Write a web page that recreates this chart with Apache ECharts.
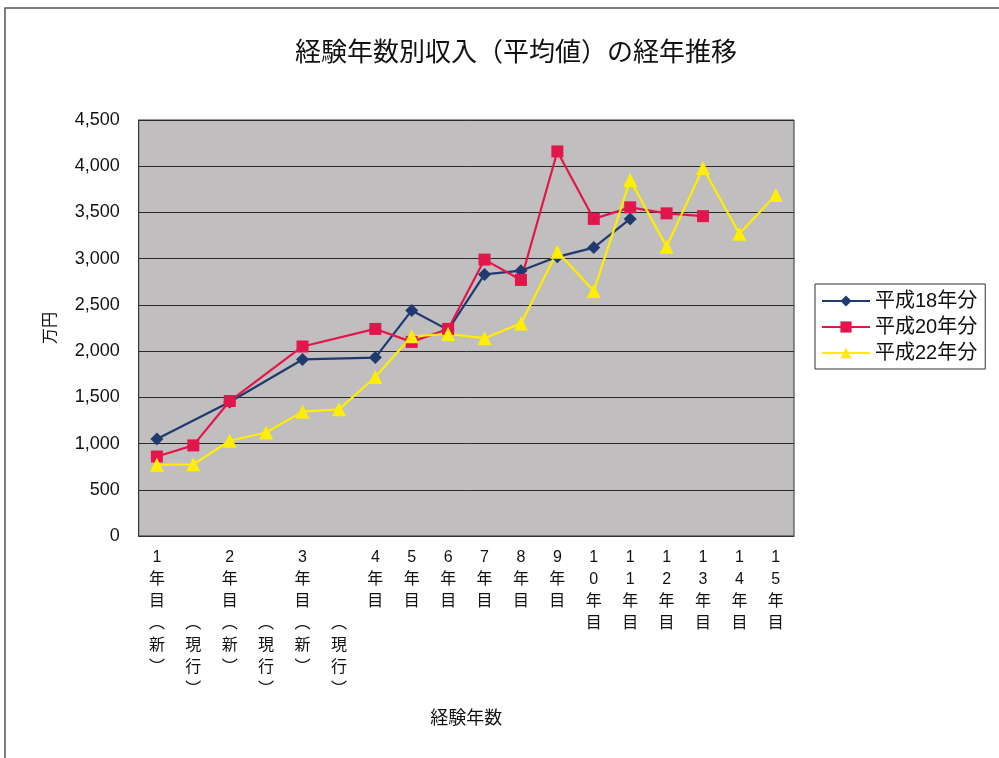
<!DOCTYPE html>
<html><head><meta charset="utf-8">
<script src="https://cdn.jsdelivr.net/npm/echarts@6/dist/echarts.min.js"></script>
<style>html,body{margin:0;padding:0;background:#fff}#c{width:999px;height:758px}</style>
</head><body><div id="c"></div>
<script>
const categories = ['1年目（新）','（現行）','2年目（新）','（現行）','3年目（新）','（現行）','4年目','5年目','6年目','7年目','8年目','9年目','10年目','11年目','12年目','13年目','14年目','15年目'];
const yTicks = [0, 500, 1000, 1500, 2000, 2500, 3000, 3500, 4000, 4500];
const seriesNames = ['平成18年分','平成20年分','平成22年分'];
const h18 = [1050, null, 1450, null, 1910, null, 1930, 2440, 2230, 2830, 2870, 3020, 3120, 3430, null, null, null, null];
const h20 = [860, 980, 1460, null, 2050, null, 2240, 2100, 2240, 2990, 2770, 4160, 3430, 3555, 3490, 3460, null, null];
const h22 = [770, 775, 1030, 1120, 1345, 1370, 1720, 2160, 2185, 2140, 2300, 3075, 2650, 3850, 3130, 3980, 3270, 3690];

const FONT = '"Liberation Sans", "Noto Sans CJK JP", sans-serif';
function vert(s){
  const i = s.indexOf('（');
  let top = i >= 0 ? s.slice(0, i) : s;
  let par = i >= 0 ? s.slice(i) : '';
  let lines = Array.from(top);
  if (par) {
    while (lines.length < 3) lines.push('\u3000');
    Array.from(par).forEach(ch => lines.push(ch === '（' ? '︵' : ch === '）' ? '︶' : ch));
  }
  return lines.join('\n');
}
const chart = echarts.init(document.getElementById('c'));
chart.setOption({
  backgroundColor: '#fff',
  animation: false,
  textStyle: { fontFamily: FONT, color: '#111' },
  title: {
    text: '経験年数別収入（平均値）の経年推移',
    left: 290, top: 33,
    textStyle: { fontSize: 26, fontWeight: 'normal', color: '#111', fontFamily: '"Noto Sans CJK JP", sans-serif' }
  },
  graphic: [{ type: 'rect', shape: { x: 5, y: 8, width: 1100, height: 900 }, style: { fill: 'none', stroke: '#555', lineWidth: 1.5 }, silent: true }],
  legend: {
    orient: 'vertical', left: 815, top: 284,
    data: seriesNames,
    borderColor: '#333', borderWidth: 1, padding: [7, 8, 6, 6],
    itemWidth: 48, itemHeight: 14, itemGap: 6,
    textStyle: { fontSize: 20, color: '#111', fontFamily: FONT }
  },
  grid: { left: 138.7, right: 205, top: 120, bottom: 222, show: true, backgroundColor: '#c0bebe', borderColor: '#333', borderWidth: 1 },
  xAxis: {
    type: 'category', data: categories, boundaryGap: true,
    name: '経験年数', nameLocation: 'middle', nameGap: 174,
    nameTextStyle: { fontSize: 18, color: '#111', fontFamily: FONT },
    axisLine: { lineStyle: { color: '#333' } },
    axisTick: { inside: true, length: 5, lineStyle: { color: '#333' } },
    axisLabel: { interval: 0, margin: 11, fontSize: 16, lineHeight: 22, color: '#111', verticalAlign: 'top', formatter: v => vert(v) },
    splitLine: { show: false }
  },
  yAxis: {
    type: 'value', min: 0, max: 4500, interval: 500,
    name: '万円', nameLocation: 'middle', nameGap: 80, nameRotate: 90,
    nameTextStyle: { fontSize: 16, color: '#111', fontFamily: FONT },
    axisLine: { show: true, lineStyle: { color: '#333' } },
    axisTick: { show: false },
    axisLabel: { fontSize: 18, margin: 19, color: '#111', formatter: v => yTicks.includes(v) ? v.toLocaleString('en-US') : '' },
    splitLine: { lineStyle: { color: '#2a2a2a', width: 1 } }
  },
  series: [
    { name: seriesNames[0], type: 'line', data: h18, connectNulls: true, symbol: 'diamond', symbolSize: 13,
      itemStyle: { color: '#1f3a6e' }, lineStyle: { color: '#1f3a6e', width: 2.2 } },
    { name: seriesNames[1], type: 'line', data: h20, connectNulls: true, symbol: 'rect', symbolSize: 12,
      itemStyle: { color: '#e3164c' }, lineStyle: { color: '#e3164c', width: 2.2 } },
    { name: seriesNames[2], type: 'line', data: h22, connectNulls: true, symbol: 'triangle', symbolSize: 14,
      itemStyle: { color: '#ffee00' }, lineStyle: { color: '#ffee00', width: 2.2 } }
  ]
});
</script></body></html>
